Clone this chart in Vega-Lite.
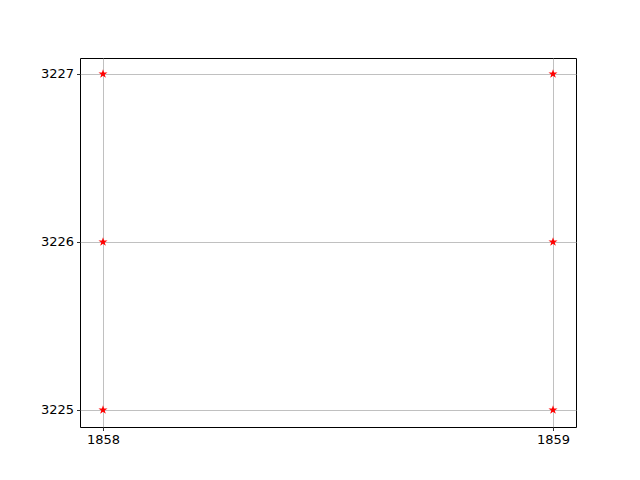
{
  "$schema": "https://vega.github.io/schema/vega-lite/v6.json",
  "width": 496,
  "height": 369,
  "autosize": {"type": "none"},
  "padding": {"left": 80, "top": 58, "right": 64, "bottom": 53},
  "background": "white",
  "config": {
    "view": {"stroke": "black", "strokeWidth": 1},
    "font": "DejaVu Sans"
  },
  "data": {
    "values": [
      {"yr": 1858, "val": 3225},
      {"yr": 1858, "val": 3226},
      {"yr": 1858, "val": 3227},
      {"yr": 1859, "val": 3225},
      {"yr": 1859, "val": 3226},
      {"yr": 1859, "val": 3227}
    ]
  },
  "mark": {"type": "point", "shape": "M0,-1L0.2245,-0.309L0.951,-0.309L0.363,0.118L0.588,0.809L0,0.382L-0.588,0.809L-0.363,0.118L-0.951,-0.309L-0.2245,-0.309Z", "filled": true, "color": "red", "size": 90, "opacity": 1},
  "encoding": {
    "x": {
      "field": "yr", "type": "quantitative",
      "scale": {"domain": [1857.9489, 1859.0511], "nice": false, "zero": false},
      "axis": {
        "title": null, "values": [1858, 1859], "format": "d",
        "grid": true, "gridColor": "#b0b0b0", "gridWidth": 0.8,
        "domain": false, "tickColor": "black", "tickSize": 3.5, "tickWidth": 0.8,
        "labelFontSize": 13, "labelColor": "black", "labelPadding": 3, "labelFont": "DejaVu Sans"
      }
    },
    "y": {
      "field": "val", "type": "quantitative",
      "scale": {"domain": [3224.8988, 3227.0952], "nice": false, "zero": false},
      "axis": {
        "title": null, "values": [3225, 3226, 3227], "format": "d",
        "grid": true, "gridColor": "#b0b0b0", "gridWidth": 0.8,
        "domain": false, "tickColor": "black", "tickSize": 3.5, "tickWidth": 0.8,
        "labelFontSize": 13, "labelColor": "black", "labelPadding": 3, "labelFont": "DejaVu Sans"
      }
    }
  }
}
